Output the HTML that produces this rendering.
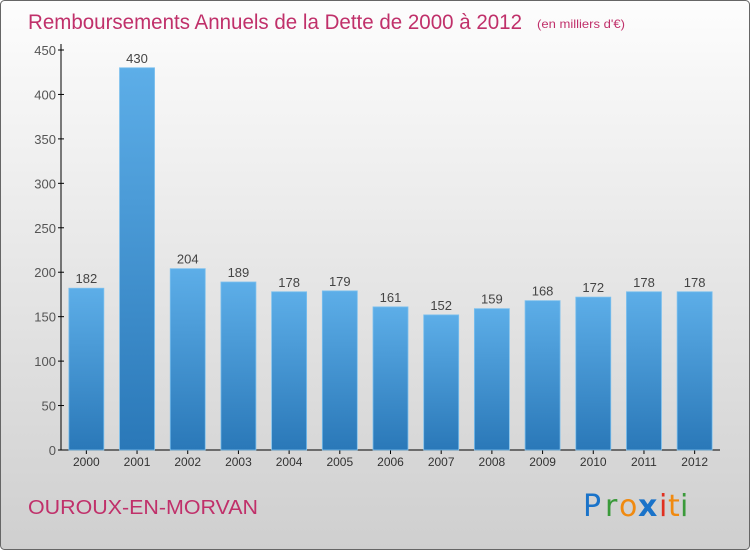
<!DOCTYPE html>
<html><head><meta charset="utf-8"><style>
body{margin:0}
#c{position:relative;width:750px;height:550px;font-family:"Liberation Sans",sans-serif}
</style></head><body>
<div id="c">
<svg width="750" height="550" xmlns="http://www.w3.org/2000/svg" id="svg">
<defs>
<linearGradient id="bg" x1="0" y1="0" x2="0" y2="1"><stop offset="0" stop-color="#fdfdfd"/><stop offset="1" stop-color="#cfcfcf"/></linearGradient>
<linearGradient id="bar" x1="0" y1="0" x2="0" y2="1"><stop offset="0" stop-color="#5daee8"/><stop offset="1" stop-color="#2a78b8"/></linearGradient>
</defs>
<rect x="0.5" y="0.5" width="749" height="549" rx="4" fill="url(#bg)" stroke="#666"/>
<text x="28" y="29" font-size="21" fill="#c0306a" textLength="494" lengthAdjust="spacingAndGlyphs">Remboursements Annuels de la Dette de 2000 à 2012</text>
<text x="537" y="28" font-size="12" fill="#c0306a" textLength="88" lengthAdjust="spacingAndGlyphs">(en milliers d'€)</text>
<text x="28" y="514" font-size="20" fill="#c0306a" textLength="230" lengthAdjust="spacingAndGlyphs">OUROUX-EN-MORVAN</text>
<g font-size="30" font-family="'DejaVu Sans',sans-serif">
<text x="583" y="516" fill="#1a73c9">P</text><text x="605" y="516" fill="#3a9a3a">r</text><text x="619" y="516" fill="#f08a10">o</text><text x="638" y="516" fill="#1a73c9" font-weight="bold">x</text><text x="659" y="516" fill="#e03020">i</text><text x="668" y="516" fill="#f08a10">t</text><text x="680" y="516" fill="#3a9a3a">i</text>
</g>
<g id="axes"></g>
<g id="bars"></g>
</svg>
</div>
<script>
const years=["2000","2001","2002","2003","2004","2005","2006","2007","2008","2009","2010","2011","2012"];
const values=[182,430,204,189,178,179,161,152,159,168,172,178,178];
const yTicks=[0,50,100,150,200,250,300,350,400,450];
const NS="http://www.w3.org/2000/svg";
const x0=61,x1=720,y0=450,yTop=50,yMax=450;
const yS=v=>y0-(v/yMax)*(y0-yTop);
const step=(x1-x0)/years.length;
const xS=i=>x0+step*(i+0.5);
function mk(t,a,p){const e=document.createElementNS(NS,t);for(const k in a)e.setAttribute(k,a[k]);p.appendChild(e);return e;}
const ax=document.getElementById('axes'),bg=document.getElementById('bars');
let l=mk('line',{x1:x0,y1:yTop-6,x2:x0,y2:y0,stroke:'#000'},ax);


l=mk('line',{x1:x0,y1:y0,x2:x1,y2:y0,stroke:'#000'},ax);


yTicks.forEach(v=>{const y=yS(v);
mk('line',{x1:x0-3,y1:y,x2:x0+3,y2:y,stroke:'#000'},ax);
const t=mk('text',{x:x0-5,y:y+5,'text-anchor':'end','font-size':13,fill:'#555'},ax);t.textContent=v;

});
years.forEach((yr,i)=>{const cx=xS(i),v=values[i],w=35;
const r=mk('rect',{x:cx-w/2,y:yS(v),width:w,height:y0-yS(v),fill:'url(#bar)',stroke:'#7cc0ee','stroke-width':0.8},bg);


const t=mk('text',{x:cx,y:yS(v)-5,'text-anchor':'middle','font-size':13,fill:'#444'},bg);t.textContent=v;


mk('line',{x1:cx,y1:y0,x2:cx,y2:y0+4,stroke:'#000'},ax);
const xl=mk('text',{x:cx,y:y0+16,'text-anchor':'middle','font-size':12,fill:'#333'},ax);xl.textContent=yr;

});
</script>
</body></html>
